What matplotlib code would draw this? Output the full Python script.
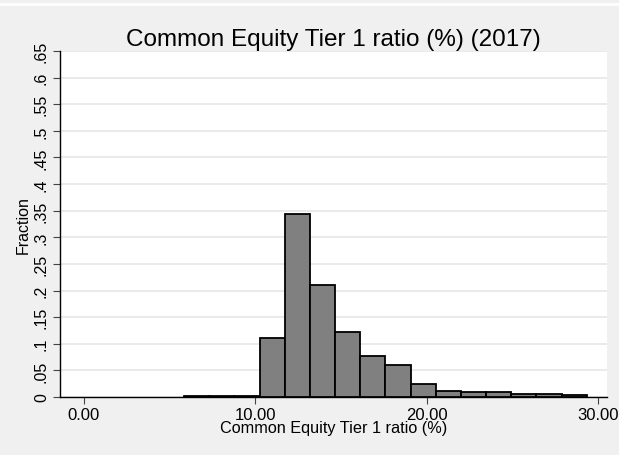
import numpy as np
import matplotlib
matplotlib.use("Agg")
import matplotlib.pyplot as plt

plt.rcParams['font.family'] = ['Liberation Sans', 'DejaVu Sans']

# histogram bins (left edge, width) and fractions
bin_start = 5.84
bin_width = 1.469
fractions = [0.002, 0.002, 0.002, 0.110, 0.344, 0.210, 0.1215, 0.0777,
             0.0607, 0.0245, 0.011, 0.010, 0.009, 0.005, 0.006, 0.003]
x_ticks = [0, 10, 20, 30]
x_ticklabels = ["0.00", "10.00", "20.00", "30.00"]
y_ticks = [0, .05, .1, .15, .2, .25, .3, .35, .4, .45, .5, .55, .6, .65]
y_ticklabels = ["0", ".05", ".1", ".15", ".2", ".25", ".3", ".35", ".4",
                ".45", ".5", ".55", ".6", ".65"]

bg = "#f0f0f0"
fig = plt.figure(figsize=(6.19, 4.56), dpi=100, facecolor=bg)
ax = fig.add_axes([60/619, 58/456, 547/619, 346/456])
ax.set_facecolor("white")

lefts = bin_start + bin_width*np.arange(len(fractions))
ax.bar(lefts, fractions, width=bin_width, align="edge", color="#808080",
       edgecolor="black", linewidth=1.3, zorder=3)

ax.set_xlim(-1.40, 30.53)
ax.set_ylim(0, 0.65)
ax.set_xticks(x_ticks)
ax.set_xticklabels(x_ticklabels, fontsize=12)
ax.set_yticks(y_ticks)
ax.set_yticklabels(y_ticklabels, fontsize=11.5, rotation=90, va="center")
ax.tick_params(axis="both", direction="out", length=5, width=0.8, color="#444444", pad=3)
ax.tick_params(axis="x", pad=2)

ax.grid(axis="y", color="#e6e6e6", linewidth=1.2, zorder=0)
ax.set_axisbelow(True)

for s in ["top", "right"]:
    ax.spines[s].set_visible(False)
ax.spines["left"].set_linewidth(1.0)
ax.spines["bottom"].set_linewidth(1.0)

ax.set_xlabel("Common Equity Tier 1 ratio (%)", fontsize=11.7, labelpad=-1)
ax.set_ylabel("Fraction", fontsize=11.5, labelpad=2)
ax.set_title("Common Equity Tier 1 ratio (%) (2017)", fontsize=17.5, pad=4)

# thin white line near the top of the window
fig.add_artist(plt.Line2D([0, 1], [1 - 5/456, 1 - 5/456], color="white", linewidth=2))

fig.savefig("out.png", dpi=100, facecolor=bg)
